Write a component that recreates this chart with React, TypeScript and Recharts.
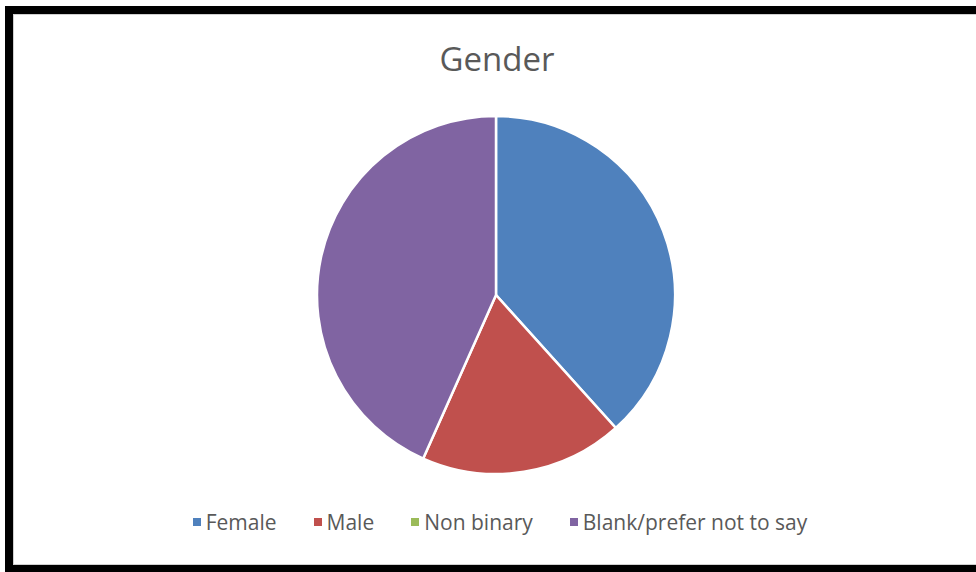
import React from "react";
import { PieChart, Pie, Cell, Legend } from "recharts";

const LABELS = ["Female", "Male", "Non binary", "Blank/prefer not to say"];
const COUNTS = [23, 11, 0, 26];
const COLORS = ["#4F81BD", "#C0504D", "#9BBB59", "#8064A2"];

const data = LABELS.map((name, i) => ({ name, value: COUNTS[i] }));

const FONT = "'Open Sans', 'Noto Sans', sans-serif";

function GenderLegend() {
  return (
    <div
      style={{
        display: "flex",
        justifyContent: "center",
        gap: 37,
        fontFamily: FONT,
        fontSize: 21,
        color: "#595959",
        lineHeight: "26px",
      }}
    >
      {LABELS.map((name, i) => (
        <div key={name} style={{ display: "flex", alignItems: "center" }}>
          <span
            style={{
              display: "inline-block",
              width: 8,
              height: 8,
              background: COLORS[i],
              marginRight: 5,
            }}
          />
          <span>{name}</span>
        </div>
      ))}
    </div>
  );
}

export default function App() {
  return (
    <div
      style={{
        position: "relative",
        width: 976,
        height: 572,
        background: "#fff",
        overflow: "hidden",
      }}
    >
      <style>{`body{margin:0}`}</style>
      {/* frame: black on top/left/bottom, runs off the right edge */}
      <div
        style={{
          position: "absolute",
          left: 5,
          top: 6,
          width: 1000,
          height: 551,
          borderTop: "8px solid #000",
          borderLeft: "8px solid #000",
          borderBottom: "7px solid #000",
          boxShadow: "inset 1px 1px 0 #d0d0d0, inset 0 -1px 0 #d0d0d0",
        }}
      />
      <div
        style={{
          position: "absolute",
          left: 0,
          top: 36,
          width: 994,
          textAlign: "center",
          fontFamily: FONT,
          fontSize: 33,
          color: "#595959",
        }}
      >
        Gender
      </div>
      <div style={{ position: "absolute", left: 0, top: 0 }}>
        <PieChart width={976} height={572}>
          <Pie
            data={data}
            dataKey="value"
            nameKey="name"
            cx={491}
            cy={290}
            outerRadius={179}
            startAngle={90}
            endAngle={-270}
            stroke="#fff"
            strokeWidth={2.5}
            isAnimationActive={false}
          >
            {data.map((d, i) => (
              <Cell key={d.name} fill={COLORS[i]} />
            ))}
          </Pie>
          <Legend
            content={<GenderLegend />}
            wrapperStyle={{ left: 0, width: 1000, top: 509 }}
          />
        </PieChart>
      </div>
    </div>
  );
}
